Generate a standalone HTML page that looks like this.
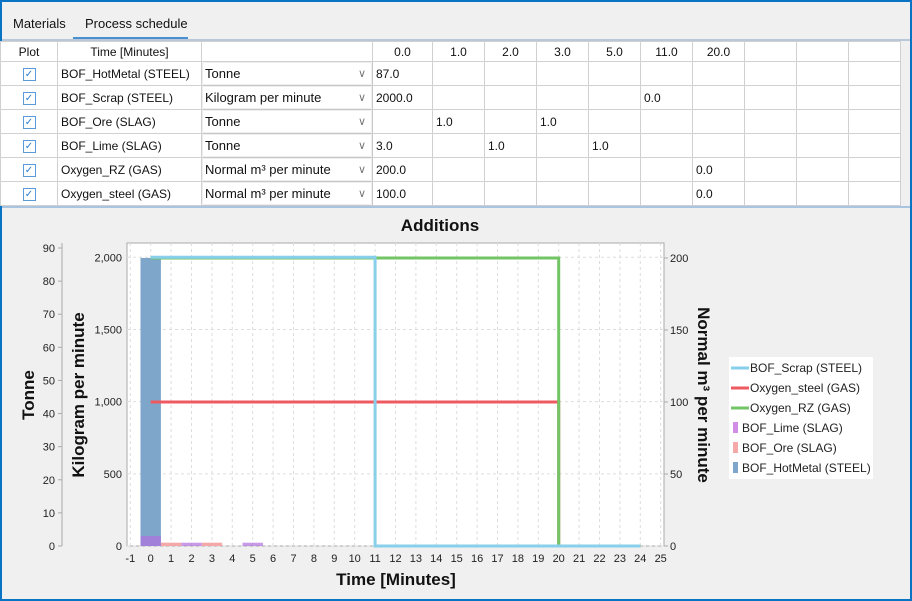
<!DOCTYPE html>
<html><head><meta charset="utf-8"><style>
body{margin:0;width:912px;height:601px;overflow:hidden;font-family:"Liberation Sans",sans-serif;}
#frame{position:absolute;left:0;top:0;width:912px;height:601px;box-sizing:border-box;border:2px solid #0a74c4;background:#f0f0f0;}
.tab{position:absolute;top:14px;font-size:13px;color:#111;}
table{position:absolute;left:-2px;top:39px;border-collapse:collapse;background:#fff;font-size:12px;table-layout:fixed;}
td{border:1px solid #d0d0d0;height:23px;padding:0 3px;white-space:nowrap;overflow:hidden;color:#111;}
tr.h td{height:19px;text-align:center;}
.cb{display:inline-block;width:11px;height:11px;border:1px solid #5a9bd8;color:#2a7bd0;font-size:10px;line-height:11px;text-align:center;}
.sel{position:relative;border:1px solid #c8c8c8;border-radius:2px;box-shadow:0 0 0 1px #eee inset;font-size:13px;}
.sel span.ar{position:absolute;right:6px;top:5px;color:#777;font-size:11px;}
</style></head><body>
<div id="frame">
<div class="tab" style="left:11px">Materials</div>
<div class="tab" style="left:83px">Process schedule</div>
<div style="position:absolute;left:71px;top:35px;width:115px;height:2px;background:#4a90d0"></div>
<div style="position:absolute;left:0;top:37px;width:908px;height:2px;background:#b8c8d8"></div>
<table>
<colgroup><col style="width:57px"><col style="width:144px"><col style="width:171px"><col style="width:60px"><col style="width:52px"><col style="width:52px"><col style="width:52px"><col style="width:52px"><col style="width:52px"><col style="width:52px"><col style="width:52px"><col style="width:52px"><col style="width:52px"></colgroup>
<tr class="h"><td>Plot</td><td>Time [Minutes]</td><td></td><td>0.0</td><td>1.0</td><td>2.0</td><td>3.0</td><td>5.0</td><td>11.0</td><td>20.0</td><td></td><td></td><td></td></tr>
<tr><td style="text-align:center"><span class="cb">✓</span></td><td>BOF_HotMetal (STEEL)</td><td class="sel">Tonne<span class="ar">∨</span></td><td>87.0</td><td></td><td></td><td></td><td></td><td></td><td></td><td></td><td></td><td></td></tr>
<tr><td style="text-align:center"><span class="cb">✓</span></td><td>BOF_Scrap (STEEL)</td><td class="sel">Kilogram per minute<span class="ar">∨</span></td><td>2000.0</td><td></td><td></td><td></td><td></td><td>0.0</td><td></td><td></td><td></td><td></td></tr>
<tr><td style="text-align:center"><span class="cb">✓</span></td><td>BOF_Ore (SLAG)</td><td class="sel">Tonne<span class="ar">∨</span></td><td></td><td>1.0</td><td></td><td>1.0</td><td></td><td></td><td></td><td></td><td></td><td></td></tr>
<tr><td style="text-align:center"><span class="cb">✓</span></td><td>BOF_Lime (SLAG)</td><td class="sel">Tonne<span class="ar">∨</span></td><td>3.0</td><td></td><td>1.0</td><td></td><td>1.0</td><td></td><td></td><td></td><td></td><td></td></tr>
<tr><td style="text-align:center"><span class="cb">✓</span></td><td>Oxygen_RZ (GAS)</td><td class="sel">Normal m³ per minute<span class="ar">∨</span></td><td>200.0</td><td></td><td></td><td></td><td></td><td></td><td>0.0</td><td></td><td></td><td></td></tr>
<tr><td style="text-align:center"><span class="cb">✓</span></td><td>Oxygen_steel (GAS)</td><td class="sel">Normal m³ per minute<span class="ar">∨</span></td><td>100.0</td><td></td><td></td><td></td><td></td><td></td><td>0.0</td><td></td><td></td><td></td></tr>
</table>
<div style="position:absolute;left:0;top:204px;width:908px;height:2px;background:#a8c4e0"></div>
</div>
<svg id="chart" width="912" height="601" style="position:absolute;left:0;top:0"></svg>
<script>
const xTicks=[-1,0,1,2,3,4,5,6,7,8,9,10,11,12,13,14,15,16,17,18,19,20,21,22,23,24,25];
const tonneTicks=[0,10,20,30,40,50,60,70,80,90];
const kgTicks=[0,500,1000,1500,2000];
const nm3Ticks=[0,50,100,150,200];
const hotMetalX=[0];const hotMetalV=[87];
const oreX=[1,3];const oreV=[1,1];
const limeX=[0,2,5];const limeV=[3,1,1];
const scrapT=[0,11,24];const scrapV=[2000,0,0];
const rzT=[0,20];const rzV=[200,0];
const o2steelT=[0,20];const o2steelV=[100,0];
const NS='http://www.w3.org/2000/svg';const svg=document.getElementById('chart');
const PL=127,PR=664,PT=243,PB=546;
const sx=v=>150.7+v*20.4;
const yT=v=>PB-v*(PB-248)/90;
const yK=v=>PB-v*(PB-257.3)/2000;
const yN=v=>PB-v*(PB-258)/200;
function mk(t,a,p){const e=document.createElementNS(NS,t);for(const k in a)e.setAttribute(k,a[k]);(p||svg).appendChild(e);return e;}
function tx(x,y,s,o,p){const e=mk('text',Object.assign({x:x,y:y,'font-family':'Liberation Sans, sans-serif','font-size':11,fill:'#222'},o||{}),p);e.textContent=s;return e;}
let e=mk('rect',{x:PL,y:PT,width:PR-PL,height:PB-PT,fill:'#fff',stroke:'#aaa'});

e=tx(440,231,'Additions',{'font-size':17,'font-weight':'bold','text-anchor':'middle',fill:'#111'});

xTicks.forEach(v=>{mk('line',{x1:sx(v),x2:sx(v),y1:PT,y2:PB,stroke:'#ddd','stroke-dasharray':'3,3'});
 const t=tx(sx(v),562,String(v),{'text-anchor':'middle'});
 });
kgTicks.forEach(v=>{mk('line',{x1:PL,x2:PR,y1:yK(v),y2:yK(v),stroke:'#ddd','stroke-dasharray':'3,3'});
 const t=tx(122,yK(v)+4,v.toLocaleString('en-US'),{'text-anchor':'end'});
 });
mk('line',{x1:62,x2:62,y1:PT,y2:PB,stroke:'#aaa'});
tonneTicks.forEach(v=>{mk('line',{x1:58,x2:62,y1:yT(v),y2:yT(v),stroke:'#aaa'});
 const t=tx(55,yT(v)+4,String(v),{'text-anchor':'end'});
 });
nm3Ticks.forEach(v=>{mk('line',{x1:PR,x2:PR+4,y1:yN(v),y2:yN(v),stroke:'#aaa'});
 const t=tx(670,yN(v)+4,String(v));
 });
hotMetalX.forEach((x,i)=>{const r=mk('rect',{x:sx(x-0.5),y:yT(hotMetalV[i]),width:20.4,height:PB-yT(hotMetalV[i]),fill:'#7ea6cb'});
 });
oreX.forEach((x,i)=>{const r=mk('rect',{x:sx(x-0.5),y:yT(oreV[i]),width:20.4,height:PB-yT(oreV[i]),fill:'#f4a8a8'});
 });
limeX.forEach((x,i)=>{const r=mk('rect',{x:sx(x-0.5),y:yT(limeV[i]),width:20.4,height:PB-yT(limeV[i]),fill:'#b070e0','fill-opacity':0.7});
 });
function step(T,V,ys,col,name){let d='';for(let i=0;i<T.length;i++){const x=sx(T[i]),y=ys(V[i]);
 if(i==0)d+='M'+x+','+y;else{d+=' L'+x+','+ys(V[i-1])+' L'+x+','+y;}}
 if(T.length&&T[T.length-1]<24&&V[V.length-1]===0){d+=' L'+sx(24)+','+ys(0);}
 const p=mk('path',{d:d,fill:'none',stroke:col,'stroke-width':3});
 }
step(o2steelT,o2steelV,yN,'#ee5a60','line-oxygen-steel');
step(rzT,rzV,yN,'#72c464','line-oxygen-rz');
step(scrapT,scrapV,yK,'#87cfea','line-scrap');
e=tx(34,395,'Tonne',{'font-size':17,'font-weight':'bold','text-anchor':'middle',transform:'rotate(-90 34 395)',fill:'#111'});

e=tx(84,395,'Kilogram per minute',{'font-size':17,'font-weight':'bold','text-anchor':'middle',transform:'rotate(-90 84 395)',fill:'#111'});

e=tx(698,395,'Normal m³ per minute',{'font-size':17,'font-weight':'bold','text-anchor':'middle',transform:'rotate(90 698 395)',fill:'#111'});

e=tx(396,585,'Time [Minutes]',{'font-size':17,'font-weight':'bold','text-anchor':'middle',fill:'#111'});

const lg=mk('g',{});
mk('rect',{x:729,y:357,width:144,height:122,fill:'#fff'},lg);
const legNames=['BOF_Scrap (STEEL)','Oxygen_steel (GAS)','Oxygen_RZ (GAS)','BOF_Lime (SLAG)','BOF_Ore (SLAG)','BOF_HotMetal (STEEL)'];
const legCols=['#87cfea','#ee5a60','#72c464','#d08ee6','#f4a8a8','#7ea6cb'];
legNames.forEach((n,i)=>{const y=368+i*20;
 if(i<3){mk('line',{x1:731,x2:749,y1:y,y2:y,stroke:legCols[i],'stroke-width':3},lg);tx(750,y+4,n,{'font-size':12},lg);}
 else{mk('rect',{x:733,y:y-6,width:5,height:11,fill:legCols[i]},lg);tx(742,y+4,n,{'font-size':12},lg);}
});
</script>
</body></html>
